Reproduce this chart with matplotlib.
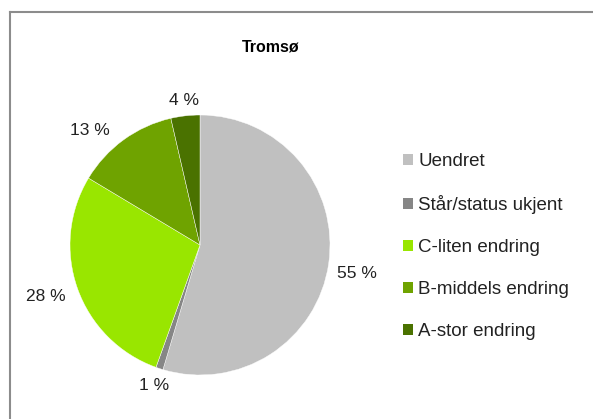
import numpy as np
import matplotlib.pyplot as plt
from matplotlib.lines import Line2D
from matplotlib.patches import Patch

# Data (share of registrations, Tromsø)
categories = ['Uendret', 'Står/status ukjent', 'C-liten endring', 'B-middels endring', 'A-stor endring']
shares = [54.6, 0.9, 28.1, 12.8, 3.6]
colors = ['#c0c0c0', '#868686', '#99e600', '#6fa300', '#4a7200']

# label placement (Excel "best fit" look): distance from centre, angle tweak in degrees
label_dist = [1.23, 1.14, 1.25, 1.22, 1.12]
label_turn = [-2, 0, -1, 8, 0]

plt.rcParams['font.family'] = ['Liberation Sans', 'DejaVu Sans']

fig = plt.figure(figsize=(5.93, 4.19), dpi=100)
fig.patch.set_facecolor('white')

# pie axes, square in pixels
ax = fig.add_axes([70 / 593, 44 / 419, 260 / 593, 260 / 419])
wedges, _ = ax.pie(
    shares,
    colors=colors,
    startangle=90,
    counterclock=False,
    radius=1.0,
    wedgeprops={'linewidth': 0.3, 'edgecolor': 'white'},
)
ax.set_xlim(-1, 1)
ax.set_ylim(-1, 1)
ax.set_aspect('equal')

total = sum(shares)
for w, val, d, turn in zip(wedges, shares, label_dist, label_turn):
    mid = np.deg2rad((w.theta1 + w.theta2) / 2 + turn)
    ax.text(d * np.cos(mid), d * np.sin(mid), f'{100 * val / total:.0f} %',
            ha='center', va='center', fontsize=12.5, color='#222222')

fig.text(271 / 593, 1 - 47 / 419, 'Tromsø', ha='center', va='center',
         fontsize=11.5, fontweight='bold')

# legend
handles = [Patch(facecolor=c, edgecolor='none', label=l) for c, l in zip(colors, categories)]
leg = fig.legend(handles=handles, loc='upper left', bbox_to_anchor=(394 / 593, 1 - 144 / 419),
                 frameon=False, fontsize=13.5, handlelength=0.5, handleheight=0.5,
                 handletextpad=0.3, labelspacing=1.33, borderpad=0)
for t in leg.get_texts():
    t.set_color('#222222')

# chart frame (only left and top edges are visible in the crop)
fig.add_artist(Line2D([9.5 / 593, 9.5 / 593], [0, 1 - 12.5 / 419], color='#8c8c8c', lw=1.5))
fig.add_artist(Line2D([9.5 / 593, 1], [1 - 12.5 / 419, 1 - 12.5 / 419], color='#8c8c8c', lw=1.5))

plt.savefig('out.png', dpi=100, facecolor='white')
